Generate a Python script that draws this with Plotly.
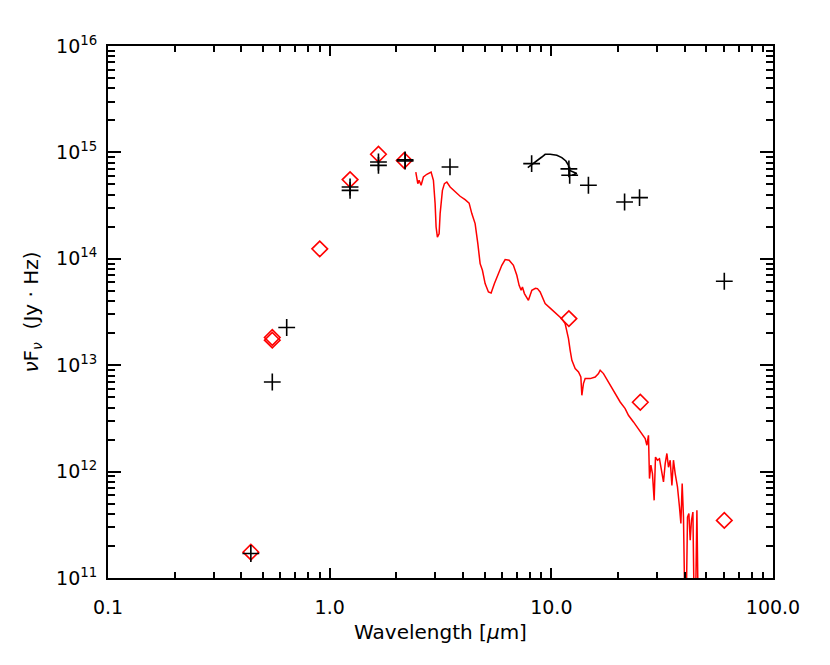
import plotly.graph_objects as go

# observed photometry (black crosses)
phot_wave = [0.441, 0.551, 0.640, 1.236, 1.236, 1.66, 1.66, 2.19, 2.19, 3.49,
             8.15, 12.0, 12.1, 14.7, 21.4, 25.0, 60.3]
phot_flux = [1.70e11, 6.95e12, 2.26e13, 4.73e14, 4.40e14, 8.12e14, 7.56e14, 8.3e14, 8.5e14, 7.3e14,
             7.85e14, 7.0e14, 6.1e14, 4.91e14, 3.42e14, 3.76e14, 6.15e13]

# model photometry (red diamonds)
model_wave = [0.441, 0.551, 0.551, 0.902, 1.236, 1.66, 2.17, 12.0, 25.2, 60.3]
model_flux = [1.75e11, 1.72e13, 1.82e13, 1.24e14, 5.55e14, 9.6e14, 8.4e14, 2.74e13, 4.48e12, 3.48e11]

# model spectrum (red line)
spec_wave = [2.447, 2.498, 2.532, 2.585, 2.648, 2.743, 2.868, 2.938, 2.990, 3.021,
             3.062, 3.117, 3.150, 3.226, 3.294, 3.377, 3.495, 3.681, 3.877, 4.083,
             4.257, 4.378, 4.531, 4.660, 4.773, 4.888, 5.027, 5.203, 5.350, 5.537,
             5.772, 5.979, 6.188, 6.452, 6.745, 6.987, 7.156, 7.306, 7.406, 7.561,
             7.882, 8.166, 8.478, 8.656, 8.903, 9.376, 10.05, 10.59, 11.15, 11.54,
             11.95, 12.16, 12.38, 12.81, 13.26, 13.59, 13.73, 13.96, 14.21, 14.97,
             15.77, 16.32, 16.61, 17.19, 18.10, 19.07, 19.75, 20.44, 21.53, 22.28,
             23.47, 24.31, 25.61, 26.51, 26.98, 27.43, 27.72, 28.12, 28.59, 29.10,
             29.50, 30.12, 30.75, 31.40, 32.06, 32.63, 33.21, 33.77, 34.37, 34.99,
             35.56, 36.20, 37.07, 37.85, 38.41, 38.93, 39.46, 40.04, 40.58, 41.14,
             41.74, 42.31, 42.88, 43.52, 44.10, 44.70, 45.36, 45.98]
spec_flux = [6.54e14, 5.09e14, 5.47e14, 4.91e14, 5.87e14, 6.23e14, 6.54e14, 5.47e14, 3.30e14, 1.99e14,
             1.60e14, 1.72e14, 2.66e14, 4.40e14, 5.09e14, 5.27e14, 4.73e14, 4.24e14, 3.87e14, 3.60e14,
             3.34e14, 2.66e14, 2.14e14, 1.39e14, 9.01e13, 7.80e13, 5.85e13, 4.88e13, 4.77e13, 5.85e13,
             7.26e13, 8.69e13, 9.83e13, 9.68e13, 8.69e13, 7.00e13, 5.63e13, 5.06e13, 5.43e13, 4.71e13,
             4.07e13, 5.06e13, 5.28e13, 5.25e13, 4.88e13, 3.79e13, 3.33e13, 3.05e13, 2.74e13, 2.46e13,
             1.78e13, 1.38e13, 1.11e13, 9.29e12, 8.63e12, 7.75e12, 5.21e12, 6.72e12, 7.48e12, 7.48e12,
             7.75e12, 8.34e12, 8.96e12, 8.34e12, 6.95e12, 5.60e12, 5.02e12, 4.51e12, 3.91e12, 3.38e12,
             2.93e12, 2.63e12, 2.28e12, 2.04e12, 1.77e12, 2.19e12, 8.60e11, 1.15e12, 9.58e11, 5.37e11,
             1.37e12, 1.28e12, 1.32e12, 1.03e12, 7.99e11, 1.19e12, 1.48e12, 1.10e12, 1.28e12, 7.43e11,
             1.28e12, 9.58e11, 7.17e11, 4.65e11, 3.25e11, 7.71e11, 3.74e11, 5e10, 5e10, 3.74e11,
             4.03e11, 2.26e11, 3.49e11, 4.17e11, 5e10, 5e10, 4.33e11, 5e10]

# mid-IR spectrum (black curve)
irs_wave = [7.83, 8.30, 8.75, 9.06, 9.38, 9.88, 10.59, 11.15, 11.63, 11.95, 12.03, 13.03, 12.38]
irs_flux = [7.20e14, 7.85e14, 8.43e14, 9.05e14, 9.60e14, 9.60e14, 9.39e14, 8.94e14, 8.30e14, 7.56e14,
            6.79e14, 6.32e14, 6.09e14]

xtick_vals = [0.1, 1.0, 10.0, 100.0]
xtick_text = ['0.1', '1.0', '10.0', '100.0']
ytick_vals = [1e11, 1e12, 1e13, 1e14, 1e15, 1e16]
ytick_text = ['10<sup>%d</sup>' % p for p in range(11, 17)]

x_minor = [m * 10.0 ** d for d in (-1, 0, 1) for m in range(2, 10)]
y_minor = [m * 10.0 ** d for d in range(11, 16) for m in range(2, 10)]

font = 'DejaVu Sans'

fig = go.Figure()

fig.add_trace(go.Scatter(
	x=spec_wave, y=spec_flux, mode='lines',
	line=dict(color='#ff0000', width=1.5), showlegend=False
))
fig.add_trace(go.Scatter(
	x=model_wave, y=model_flux, mode='markers',
	marker=dict(symbol='diamond-open', size=12, color='#ff0000', line=dict(color='#ff0000', width=1.6)),
	showlegend=False
))
fig.add_trace(go.Scatter(
	x=irs_wave, y=irs_flux, mode='lines',
	line=dict(color='black', width=1.6), showlegend=False
))
fig.add_trace(go.Scatter(
	x=phot_wave, y=phot_flux, mode='markers',
	marker=dict(symbol='cross-thin', size=12, color='black', line=dict(color='black', width=1.6)),
	showlegend=False
))

# page body has an 8px margin, so the plot box is shifted by that much
fig.update_layout(
	width=830, height=665,
	margin=dict(l=100, r=65, t=38, b=95),
	paper_bgcolor='white', plot_bgcolor='white',
	font=dict(family=font, size=18, color='black'),
	xaxis=dict(
		type='log', range=[-1, 2],
		tickmode='array', tickvals=xtick_vals, ticktext=xtick_text,
		tickfont=dict(size=19),
		ticks='inside', ticklen=10, tickwidth=1.5, tickcolor='black',
		minor=dict(tickmode='array', tickvals=x_minor, ticks='inside', ticklen=6,
				   tickwidth=1.5, tickcolor='black', showgrid=False),
		showline=True, linecolor='black', linewidth=2, mirror='allticks',
		showgrid=False, zeroline=False, ticklabelstandoff=11,
		title=dict(text='Wavelength [<i>μ</i>m]', standoff=8, font=dict(size=20))
	),
	yaxis=dict(
		type='log', range=[11, 16],
		tickmode='array', tickvals=ytick_vals, ticktext=ytick_text,
		tickfont=dict(size=19),
		ticks='inside', ticklen=13, tickwidth=1.5, tickcolor='black',
		minor=dict(tickmode='array', tickvals=y_minor, ticks='inside', ticklen=7,
				   tickwidth=1.5, tickcolor='black', showgrid=False),
		showline=True, linecolor='black', linewidth=2, mirror='allticks',
		showgrid=False, zeroline=False, ticklabelstandoff=5,
		title=dict(text='<i>ν</i>F<sub><i>ν</i></sub>  (Jy · Hz)', standoff=12, font=dict(size=20))
	)
)

fig.write_html("out.html")
